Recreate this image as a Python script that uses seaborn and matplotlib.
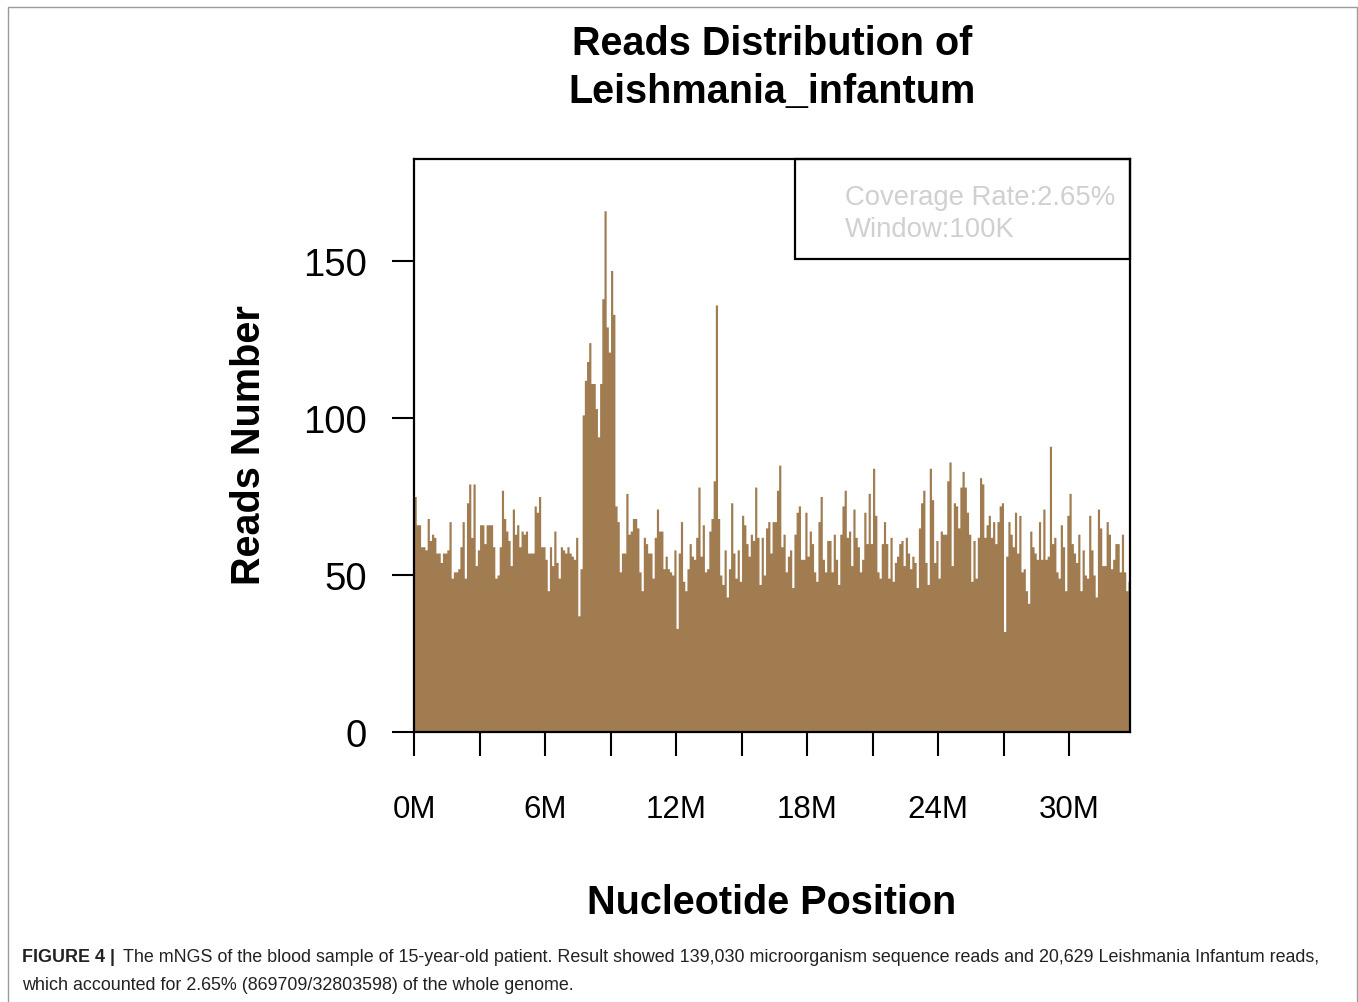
import numpy as np
import pandas as pd
import matplotlib
matplotlib.use("Agg")
import matplotlib.pyplot as plt
from matplotlib.patches import Rectangle
import seaborn as sns

sns.set_style("ticks")
plt.rcParams["font.family"] = ["Liberation Sans", "DejaVu Sans"]
plt.rcParams["text.color"] = "black"
plt.rcParams["xtick.color"] = "black"
plt.rcParams["ytick.color"] = "black"

BROWN = "#A07C50"
WINDOW = 100_000  # 100K windows

# reads per 100K window (328 windows, 0 - 32.8M)
reads = [
    75, 66, 66, 59, 59, 58, 68, 61, 63, 62, 57, 57, 54, 57, 57, 58, 67, 49, 51, 51,
    52, 59, 67, 49, 73, 79, 62, 79, 53, 58, 66, 66, 60, 66, 66, 66, 59, 49, 50,
    59, 77, 68, 64, 61, 53, 71, 63, 66, 59, 64, 63, 64, 57, 57, 57, 72, 70, 75, 59,
    59, 55, 45, 59, 53, 64, 54, 49, 59, 58, 57, 59, 57, 56, 55, 62, 37, 52,
    101, 112, 118, 124, 111, 111, 103, 94, 111, 138, 166, 129, 121, 147, 133, 72, 67,
    51, 57, 57, 76, 63,
    64, 68, 68, 65, 51, 45, 62, 60, 57, 57, 49, 62, 71, 64, 64, 52, 56, 52, 51, 50,
    58, 33, 57, 67, 48, 45, 52, 60, 56, 55, 62, 78, 56, 66, 51, 52, 64, 68, 80, 136,
    68, 50, 47,
    58, 43, 52, 73, 57, 49, 58, 48, 69, 66, 60, 56, 63, 61, 78, 62, 47, 62, 50, 65,
    67, 57, 67, 67, 77, 85, 59, 63, 51, 56,
    58, 46, 63, 70, 72, 55, 55, 70, 56, 64, 60, 51, 48, 67, 75, 55, 51, 61, 61, 51,
    63, 55, 47, 63, 72, 77, 62, 64, 53, 71, 62, 59, 51, 55, 70, 60, 76, 60, 84, 69,
    51, 49,
    60, 67, 60, 49, 62, 48, 54, 56, 60, 61, 53, 62, 57, 52, 56, 54, 46, 65, 73, 77,
    54, 47, 84, 74, 54, 61, 49, 64, 63, 63, 80, 86, 53, 73, 72, 65, 78, 83, 78, 70,
    63,
    48, 61, 49, 62, 81, 79, 62, 66, 69, 62, 67, 60, 67, 72, 73, 32, 56, 67, 63, 59,
    70, 57, 69, 51, 52, 45, 41, 64, 59, 57, 55, 67, 55,
    71, 55, 56, 91, 60, 62, 51, 49, 66, 59, 45, 69, 76, 60, 57, 54, 63, 45, 58, 50,
    49, 69, 58, 50, 43, 71, 65, 53, 53, 67, 63, 52, 55, 60, 60, 51, 63, 51, 45, 48,
]
x_ticks_mb = [0, 3, 6, 9, 12, 15, 18, 21, 24, 27, 30]
x_tick_labels = ["0M", "", "6M", "", "12M", "", "18M", "", "24M", "", "30M"]
y_ticks = [0, 50, 100, 150]

df = pd.DataFrame({"start": np.arange(len(reads)) * WINDOW + WINDOW / 2,
                   "reads": reads})
genome_end = len(reads) * WINDOW

fig = plt.figure(figsize=(13.58, 10.03), dpi=100)
ax = fig.add_axes([0.3049, 0.2692, 0.5273, 0.5713])

sns.histplot(data=df, x="start", weights="reads", binwidth=WINDOW,
             binrange=(0, genome_end), element="step", fill=True,
             color=BROWN, alpha=1, linewidth=0, ax=ax)

ax.set_xlim(0, genome_end)
ax.set_ylim(0, 182.5)
ax.set_xticks([m * 1e6 for m in x_ticks_mb])
ax.set_xticklabels(x_tick_labels)
ax.set_yticks(y_ticks)
ax.set_xlabel("")
ax.set_ylabel("")
ax.tick_params(axis="y", length=15.8, width=1.5, pad=18, labelsize=27.5)
ax.tick_params(axis="x", length=17, width=1.5, pad=28, labelsize=22.5)
for s in ax.spines.values():
    s.set_linewidth(1.6)
    s.set_color("black")

# info box
ax.add_patch(Rectangle((0.532, 0.8255), 0.468, 0.1745, transform=ax.transAxes,
                       fill=False, ec="black", lw=1.6, clip_on=False, zorder=5))
ax.text(0.602, 0.934, "Coverage Rate:2.65%", transform=ax.transAxes,
        ha="left", va="center", fontsize=19.8, color="#d0d0d0")
ax.text(0.602, 0.878, "Window:100K", transform=ax.transAxes,
        ha="left", va="center", fontsize=19.8, color="#d0d0d0")

fig.text(0.5685, 0.932, "Reads Distribution of\nLeishmania_infantum",
         ha="center", va="center", fontsize=28.5, fontweight="bold",
         linespacing=1.33)
fig.text(0.1835, 0.5563, "Reads Number", rotation=90, ha="center", va="center",
         fontsize=28.5, fontweight="bold")
fig.text(0.5685, 0.0997, "Nucleotide Position", ha="center", va="center",
         fontsize=28.5, fontweight="bold")

# caption
fig.text(0.0162, 0.0449, "FIGURE 4 |", ha="left", va="center", fontsize=12.9,
         fontweight="bold", color="#222222")
fig.text(0.0906, 0.0449,
         "The mNGS of the blood sample of 15-year-old patient. Result showed 139,030 "
         "microorganism sequence reads and 20,629 Leishmania Infantum reads,",
         ha="left", va="center", fontsize=12.9, color="#222222")
fig.text(0.0162, 0.0179,
         "which accounted for 2.65% (869709/32803598) of the whole genome.",
         ha="left", va="center", fontsize=12.9, color="#222222")

# outer frame
fig.add_artist(Rectangle((8 / 1358, -0.02), 1349 / 1358, 1.02 - 8 / 1003,
                         transform=fig.transFigure, fill=False, ec="#9a9a9a", lw=1))

fig.savefig("out.png", dpi=100)
